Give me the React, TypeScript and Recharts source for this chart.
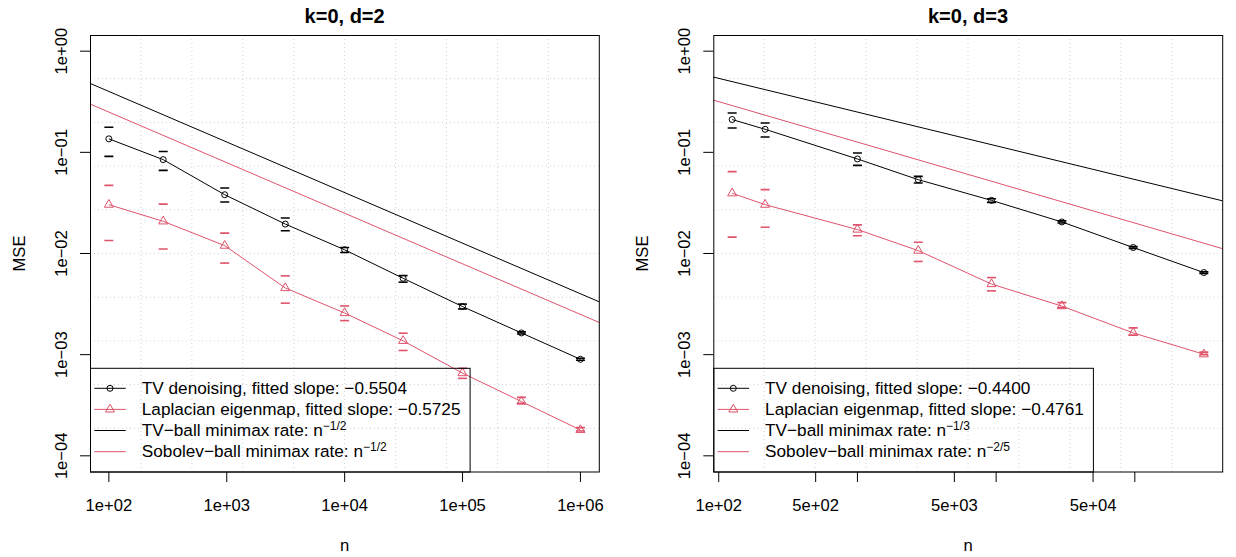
import React from 'react';
import { ComposedChart, Line, Scatter, XAxis, YAxis, CartesianGrid } from 'recharts';

const BLACK = '#000000';
const RED = '#DF536B';
const GRID = '#D3D3D3';
const FONT = '"Liberation Sans", Arial, Helvetica, sans-serif';

// ---------- shared y axis ----------
const yTicks = [1, 0.1, 0.01, 0.001, 0.0001];
const yTickLabels = ['1e+00', '1e\u221201', '1e\u221202', '1e\u221203', '1e\u221204'];
const yDomain: [number, number] = [6.918e-5, 1.4454];

// ---------- panel 1: k=0, d=2 ----------
const d2N = [100, 289, 961, 3136, 10000, 31329, 99856, 315844, 1000000];
const d2Tv = [0.136, 0.0847, 0.0381, 0.01954, 0.01088, 0.00569, 0.00299, 0.00164, 0.0009];
const d2TvHi = [0.177, 0.102, 0.0444, 0.0224, 0.01146, 0.00605, 0.00316, 0.00168, 0.000921];
const d2TvLo = [0.0912, 0.0663, 0.0323, 0.0168, 0.01023, 0.00521, 0.00283, 0.0016, 0.00088];
const d2Lap = [0.0304, 0.0208, 0.01196, 0.00456, 0.00258, 0.00137, 0.000657, 0.000344, 0.00018];
const d2LapHi = [0.0471, 0.0308, 0.0159, 0.00601, 0.00303, 0.00163, 0.000733, 0.000378, 0.00019];
const d2LapLo = [0.01345, 0.01106, 0.00804, 0.00323, 0.00217, 0.0011, 0.000583, 0.00033, 0.000176];
const d2RateTvN = [69.18, 1445440];
const d2RateTv = [0.4809, 0.003327];
const d2RateSob = [0.3006, 0.002079];
const d2XDomain: [number, number] = [69.18, 1445440];
const d2XTicks = [100, 1000, 10000, 100000, 1000000];
const d2XTickLabels = ['1e+02', '1e+03', '1e+04', '1e+05', '1e+06'];
const d2Legend = [
  'TV denoising, fitted slope: \u22120.5504',
  'Laplacian eigenmap, fitted slope: \u22120.5725',
  'TV\u2212ball minimax rate: n',
  'Sobolev\u2212ball minimax rate: n',
];
const d2Exps = ['\u22121/2', '\u22121/2'];

// ---------- panel 2: k=0, d=3 ----------
const d3N = [125, 216, 1000, 2744, 9261, 29791, 97336, 314432];
const d3Tv = [0.211, 0.169, 0.086, 0.0537, 0.0335, 0.0205, 0.01146, 0.00648];
const d3TvHi = [0.245, 0.195, 0.0986, 0.0578, 0.0348, 0.021, 0.0117, 0.0066];
const d3TvLo = [0.174, 0.142, 0.0744, 0.0498, 0.032, 0.02, 0.01122, 0.00636];
const d3Lap = [0.0394, 0.0304, 0.01725, 0.01068, 0.00499, 0.00302, 0.00164, 0.00101];
const d3LapHi = [0.0644, 0.0428, 0.0192, 0.0129, 0.00578, 0.00327, 0.00184, 0.00106];
const d3LapLo = [0.0145, 0.0182, 0.015, 0.00834, 0.00427, 0.00292, 0.00156, 0.001];
const d3RateTvN = [91.39, 430072];
const d3RateTv = [0.5551, 0.03313];
const d3RateSob = [0.3287, 0.01115];
const d3XDomain: [number, number] = [91.39, 430072];
const d3XTicks = [100, 500, 1000, 5000, 10000, 50000, 100000];
const d3XTickLabels = ['1e+02', '5e+02', '', '5e+03', '', '5e+04', ''];
const d3Legend = [
  'TV denoising, fitted slope: \u22120.4400',
  'Laplacian eigenmap, fitted slope: \u22120.4761',
  'TV\u2212ball minimax rate: n',
  'Sobolev\u2212ball minimax rate: n',
];
const d3Exps = ['\u22121/3', '\u22122/5'];

type Pt = { n: number; mse: number };
const pts = (ns: number[], vs: number[]): Pt[] => ns.map((n, i) => ({ n, mse: vs[i] }));

const W = 618;
const H = 557;
const TOP = 35;
const BOTTOM = 472;

const circleDot = (p: any) => {
  if (p.cx == null || p.cy == null) return <g key={p.index} />;
  return <circle key={`c${p.index}`} cx={p.cx} cy={p.cy} r={3} fill="none" stroke={BLACK} strokeWidth={1} />;
};

const triPath = (cx: number, cy: number, r: number) => {
  const xc = r * 0.866;
  const yc = r * 0.5;
  return `M${cx},${cy - r}L${cx + xc},${cy + yc}L${cx - xc},${cy + yc}Z`;
};

const triDot = (p: any) => {
  if (p.cx == null || p.cy == null) return <g key={p.index} />;
  return <path key={`t${p.index}`} d={triPath(p.cx, p.cy, 5.2)} fill="none" stroke={RED} strokeWidth={1} />;
};

const capShape = (color: string) => (p: any) => {
  if (p.cx == null || p.cy == null) return <g />;
  return <line x1={p.cx - 4.5} x2={p.cx + 4.5} y1={p.cy} y2={p.cy} stroke={color} strokeWidth={1.6} />;
};

type PanelProps = {
  left: number;
  plotLeft: number;
  plotRight: number;
  title: string;
  ns: number[];
  tv: number[];
  tvHi: number[];
  tvLo: number[];
  lap: number[];
  lapHi: number[];
  lapLo: number[];
  rateN: number[];
  rateTv: number[];
  rateSob: number[];
  xDomain: [number, number];
  xTicks: number[];
  xTickLabels: string[];
  legend: string[];
  exps: string[];
};

function Panel(props: PanelProps) {
  const { left, plotLeft, plotRight, title, ns, tv, tvHi, tvLo, lap, lapHi, lapLo, rateN, rateTv, rateSob, xDomain, xTicks, xTickLabels, legend, exps } = props;
  const yAxisW = 60;
  const L = plotLeft;
  const R = plotRight;
  const cx = (L + R) / 2;

  const xTick = (p: any) => {
    const lab = xTickLabels[p.index] || '';
    return (
      <text x={p.x} y={p.y + 28.7} textAnchor="middle" fontFamily={FONT} fontSize={16.6} fill={BLACK}>
        {lab}
      </text>
    );
  };
  const yTick = (p: any) => {
    const lab = yTickLabels[p.index] || '';
    const tx = p.x - 13.3;
    return (
      <text x={tx} y={p.y} transform={`rotate(-90 ${tx} ${p.y})`} textAnchor="middle" fontFamily={FONT} fontSize={16.6} fill={BLACK}>
        {lab}
      </text>
    );
  };

  const legTop = 368.3;
  const legRight = L + 379.6;
  const rows = [394, 415.1, 436.2, 457.4];
  const rowMid = [388.3, 409.4, 430.5, 451.7];
  const sx1 = L + 4.3;
  const sx2 = L + 35.7;
  const smid = L + 20;
  const tx = L + 51.8;

  return (
    <div style={{ position: 'absolute', left, top: 0, width: W, height: H }}>
      <ComposedChart
        width={W}
        height={H}
        margin={{ top: TOP, right: W - R, bottom: H - BOTTOM - 40, left: L - yAxisW }}
      >
        <CartesianGrid
          stroke={GRID}
          strokeDasharray="1 3"
          verticalCoordinatesGenerator={(a: any) => {
            const o = a.offset;
            return Array.from({ length: 9 }, (_, k) => o.left + ((k + 1) * o.width) / 10);
          }}
          horizontalCoordinatesGenerator={(a: any) => {
            const o = a.offset;
            return Array.from({ length: 9 }, (_, k) => o.top + ((k + 1) * o.height) / 10);
          }}
        />
        <XAxis
          type="number"
          dataKey="n"
          scale="log"
          domain={xDomain}
          allowDataOverflow
          ticks={xTicks}
          interval={0}
          tickSize={10}
          tickMargin={0}
          height={40}
          axisLine={false}
          tickLine={{ stroke: BLACK }}
          tick={xTick}
        />
        <YAxis
          type="number"
          dataKey="mse"
          scale="log"
          domain={yDomain}
          allowDataOverflow
          ticks={yTicks}
          interval={0}
          width={yAxisW}
          tickSize={10}
          tickMargin={0}
          axisLine={false}
          tickLine={{ stroke: BLACK }}
          tick={yTick}
        />
        <Line data={pts(rateN, rateTv)} dataKey="mse" stroke={BLACK} strokeWidth={1} dot={false} isAnimationActive={false} />
        <Line data={pts(rateN, rateSob)} dataKey="mse" stroke={RED} strokeWidth={1} dot={false} isAnimationActive={false} />
        <Line data={pts(ns, tv)} dataKey="mse" stroke={BLACK} strokeWidth={1} dot={circleDot} isAnimationActive={false} />
        <Line data={pts(ns, lap)} dataKey="mse" stroke={RED} strokeWidth={1} dot={triDot} isAnimationActive={false} />
        <Scatter data={[...pts(ns, tvHi), ...pts(ns, tvLo)]} dataKey="mse" shape={capShape(BLACK)} isAnimationActive={false} />
        <Scatter data={[...pts(ns, lapHi), ...pts(ns, lapLo)]} dataKey="mse" shape={capShape(RED)} isAnimationActive={false} />
      </ComposedChart>
      <svg width={W} height={H} style={{ position: 'absolute', left: 0, top: 0, pointerEvents: 'none' }}>
        <rect x={L + 0.5} y={TOP + 0.5} width={R - L - 0.5} height={BOTTOM - TOP - 0.5} fill="none" stroke={BLACK} strokeWidth={1} />
        <text x={cx} y={23} textAnchor="middle" fontFamily={FONT} fontSize={20} fontWeight="bold" fill={BLACK}>
          {title}
        </text>
        <text
          x={L - 65.5}
          y={(TOP + BOTTOM) / 2}
          transform={`rotate(-90 ${L - 65.5} ${(TOP + BOTTOM) / 2})`}
          textAnchor="middle"
          fontFamily={FONT}
          fontSize={16.6}
          fill={BLACK}
        >
          MSE
        </text>
        <text x={cx} y={551} textAnchor="middle" fontFamily={FONT} fontSize={16.6} fill={BLACK}>
          n
        </text>
        <rect x={L + 0.5} y={legTop} width={legRight - L} height={BOTTOM - legTop} fill="none" stroke={BLACK} strokeWidth={1} />
        <line x1={sx1} x2={sx2} y1={rowMid[0]} y2={rowMid[0]} stroke={BLACK} strokeWidth={1} />
        <circle cx={smid} cy={rowMid[0]} r={3} fill="none" stroke={BLACK} strokeWidth={1} />
        <line x1={sx1} x2={sx2} y1={rowMid[1]} y2={rowMid[1]} stroke={RED} strokeWidth={1} />
        <path d={triPath(smid, rowMid[1], 5.2)} fill="none" stroke={RED} strokeWidth={1} />
        <line x1={sx1} x2={sx2} y1={rowMid[2]} y2={rowMid[2]} stroke={BLACK} strokeWidth={1} />
        <line x1={sx1} x2={sx2} y1={rowMid[3]} y2={rowMid[3]} stroke={RED} strokeWidth={1} />
        {legend.map((s, i) => (
          <text key={i} x={tx} y={rows[i]} fontFamily={FONT} fontSize={17.2} fill={BLACK}>
            {s}
            {i >= 2 ? (
              <tspan fontSize={12} dy={-6}>
                {exps[i - 2]}
              </tspan>
            ) : null}
          </text>
        ))}
      </svg>
    </div>
  );
}

export default function App() {
  return (
    <div style={{ position: 'absolute', left: 0, top: 0, width: 1236, height: 557, background: '#ffffff' }}>
      <Panel
        left={0}
        plotLeft={90}
        plotRight={599.3}
        title="k=0, d=2"
        ns={d2N}
        tv={d2Tv}
        tvHi={d2TvHi}
        tvLo={d2TvLo}
        lap={d2Lap}
        lapHi={d2LapHi}
        lapLo={d2LapLo}
        rateN={d2RateTvN}
        rateTv={d2RateTv}
        rateSob={d2RateSob}
        xDomain={d2XDomain}
        xTicks={d2XTicks}
        xTickLabels={d2XTickLabels}
        legend={d2Legend}
        exps={d2Exps}
      />
      <Panel
        left={618}
        plotLeft={95.3}
        plotRight={604.7}
        title="k=0, d=3"
        ns={d3N}
        tv={d3Tv}
        tvHi={d3TvHi}
        tvLo={d3TvLo}
        lap={d3Lap}
        lapHi={d3LapHi}
        lapLo={d3LapLo}
        rateN={d3RateTvN}
        rateTv={d3RateTv}
        rateSob={d3RateSob}
        xDomain={d3XDomain}
        xTicks={d3XTicks}
        xTickLabels={d3XTickLabels}
        legend={d3Legend}
        exps={d3Exps}
      />
    </div>
  );
}
